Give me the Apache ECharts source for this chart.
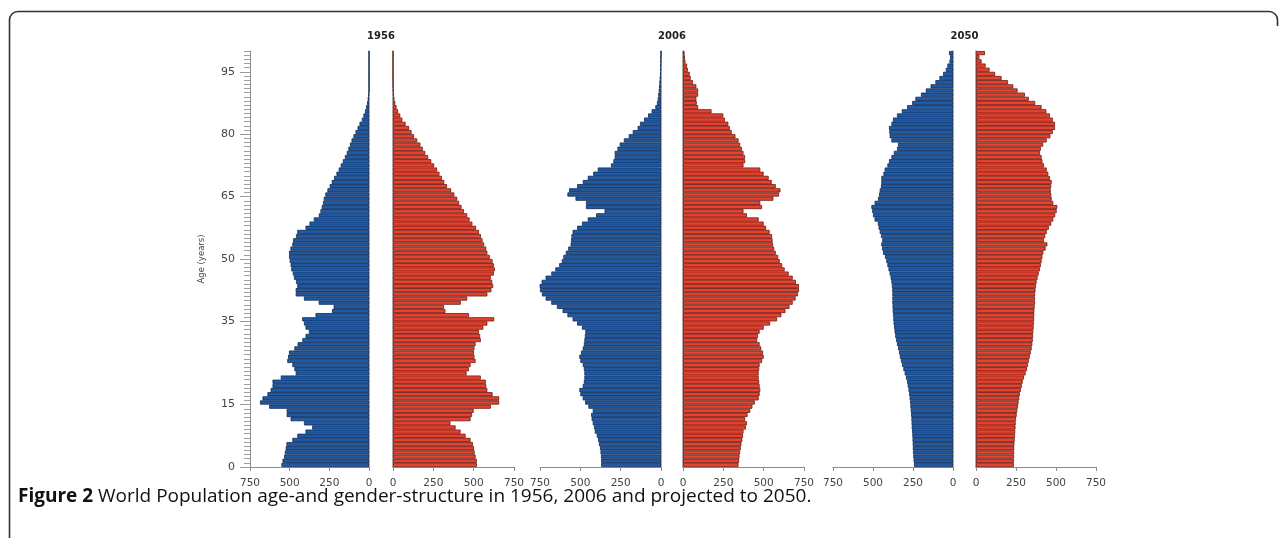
<!DOCTYPE html>
<html><head><meta charset="utf-8">
<script src="https://cdn.jsdelivr.net/npm/echarts@6/dist/echarts.min.js"></script>
<style>html,body{margin:0;padding:0;background:#fff}#c{width:1282px;height:538px}</style>
</head><body><div id="c"></div>
<script>
// ages 0..99, one bar per year
const ages = Array.from({length:100}, (_, i) => String(i));
const years = ['1956', '2006', '2050'];
const ageTickLabels = [0, 15, 35, 50, 65, 80, 95];

const male1956 = [552,545,535,530,525,520,483,452,400,358,
 410,494,519,519,629,687,671,640,620,608,
 608,556,462,470,483,515,510,504,470,450,
 420,400,379,400,410,421,337,233,223,317,
 410,462,462,452,460,473,480,490,494,500,
 504,504,495,483,478,460,452,400,375,348,
 316,306,298,290,285,275,262,248,235,220,
 205,191,178,165,152,140,130,120,110,98,
 85,72,60,45,35,25,18,12,8,4,
 0,0,0,0,0,0,0,0,0,0];
const female1956 = [520,519,512,506,502,495,481,450,419,388,
 356,481,490,500,606,658,658,617,585,578,
 575,544,456,470,481,512,505,502,505,512,
 544,540,533,560,585,627,471,325,315,420,
 460,585,610,621,615,606,625,631,625,617,
 600,585,578,565,555,545,533,515,492,475,
 460,440,425,410,398,380,360,335,318,303,
 288,273,255,237,218,200,185,170,150,130,
 115,100,78,58,45,32,22,14,9,6,
 3,2,1,0,0,0,0,0,0,0];
const male2006 = [371,371,372,375,378,385,390,398,410,415,
 423,430,433,423,450,470,485,500,506,485,
 478,475,475,478,485,500,506,496,485,478,
 475,472,469,490,520,548,580,610,645,680,
 715,738,750,756,740,715,680,655,631,615,
 605,590,575,560,558,555,548,520,490,454,
 402,350,465,465,530,580,570,520,485,454,
 420,392,310,295,287,287,270,256,230,200,
 175,145,130,105,80,58,35,25,20,17,
 14,12,10,8,6,4,3,2,1,0];
const female2006 = [344,348,350,354,358,362,368,372,375,390,
 396,385,400,417,430,445,469,475,479,475,
 472,469,469,472,475,490,500,496,485,475,
 460,465,475,500,540,583,610,635,660,680,
 698,712,719,719,700,680,655,630,615,600,
 590,575,565,558,555,552,537,515,500,469,
 396,375,490,479,560,595,604,575,550,531,
 500,479,375,385,385,375,365,354,344,325,
 302,290,281,260,250,177,94,85,83,94,
 94,83,62,48,42,30,25,15,12,10];
const male2050 = [244,246,248,250,251,252,253,254,256,258,
 259,260,262,264,266,268,271,274,278,283,
 287,294,302,310,318,325,332,337,343,350,
 356,361,365,368,371,373,375,377,378,379,
 379,379,380,382,385,390,396,403,410,417,
 425,437,443,448,442,450,458,465,470,490,
 500,505,510,490,469,462,458,450,448,448,
 435,427,410,400,385,370,350,344,385,396,
 398,400,385,375,350,320,287,255,235,200,
 170,140,110,85,62,45,35,22,18,25];
const female2050 = [237,237,238,238,239,240,242,244,245,247,
 248,250,254,258,262,266,270,274,280,286,
 292,300,310,318,325,330,336,342,348,352,
 355,357,358,360,362,363,364,365,367,369,
 369,369,372,375,379,385,392,400,405,410,
 415,421,435,446,425,433,442,455,470,483,
 495,504,508,483,473,470,467,470,473,462,
 452,442,425,415,410,400,405,420,442,465,
 480,494,494,480,462,440,410,370,330,306,
 260,233,200,160,120,85,60,35,21,56];

const maleSeries = [male1956, male2006, male2050];
const femaleSeries = [female1956, female2006, female2050];

// layout (pixels)
const panels = [
  {mL:250, mW:119, fL:393, fW:121, tx:381},
  {mL:540, mW:121, fL:683, fW:121, tx:672},
  {mL:833, mW:120, fL:976, fW:120, tx:964.5}
];
const TOP = 51, BOTTOM = 71;
const FONT = 'DejaVu Sans';
const axisGray = '#8c8c8c';

const grid = [], xAxis = [], yAxis = [], series = [], graphic = [];
panels.forEach((p, k) => {
  [['m', p.mL, p.mW], ['f', p.fL, p.fW]].forEach(([sex, left, width]) => {
    const gi = grid.length;
    const isMale = sex === 'm';
    grid.push({left: left, width: width, top: TOP, bottom: BOTTOM});
    xAxis.push({
      type: 'value', gridIndex: gi, min: 0, max: 750, interval: 250, inverse: isMale,
      axisLine: {show: true, lineStyle: {color: axisGray, width: 1}},
      axisTick: {show: true, length: 4, lineStyle: {color: axisGray}},
      axisLabel: {fontSize: 10.5, color: '#444', margin: 11, fontFamily: FONT, showMinLabel: true, showMaxLabel: true},
      splitLine: {show: false}
    });
    yAxis.push({
      type: 'category', gridIndex: gi, data: ages, position: isMale ? 'right' : 'left',
      axisLine: {show: true, onZero: false, lineStyle: {color: '#9a9a9a', width: 1.5}},
      axisTick: {show: false}, axisLabel: {show: false}, splitLine: {show: false}
    });
    series.push({
      type: 'bar', xAxisIndex: gi, yAxisIndex: gi,
      data: isMale ? maleSeries[k] : femaleSeries[k],
      barCategoryGap: '0%', silent: true,
      itemStyle: isMale
        ? {color: '#1f5aa6', borderColor: '#0c2a55', borderWidth: 0.8}
        : {color: '#e8422f', borderColor: '#6a1a10', borderWidth: 0.8}
    });
  });
  graphic.push({type: 'text', x: p.tx, y: 36, style: {text: years[k], align: 'center', verticalAlign: 'middle', font: 'bold 10px ' + FONT, fill: '#222'}});
});

// age axis on first panel
yAxis.push({
  type: 'value', gridIndex: 0, min: 0, max: 100, interval: 1, position: 'left',
  axisLine: {show: true, onZero: false, lineStyle: {color: axisGray, width: 1}},
  axisTick: {show: true, length: 6, lineStyle: {color: '#a0a0a0'}},
  axisLabel: {show: false}, splitLine: {show: false},
  name: 'Age (years)', nameLocation: 'middle', nameGap: 44, nameRotate: 90,
  nameTextStyle: {fontSize: 8.5, color: '#444', fontFamily: FONT}
});
yAxis.push({
  type: 'value', gridIndex: 0, min: 0, max: 100, position: 'left',
  axisLine: {show: false, onZero: false},
  axisTick: {show: true, length: 10, customValues: ageTickLabels, lineStyle: {color: '#999'}},
  axisLabel: {customValues: ageTickLabels, fontSize: 11, color: '#444', margin: 15, fontFamily: FONT},
  splitLine: {show: false}
});

// figure frame: left + top edges with rounded corners
const frameStyle = {fill: 'none', stroke: '#333', lineWidth: 1.6};
graphic.push({type: 'polyline', shape: {points: [[9.5, 538], [9.5, 20]]}, style: frameStyle});
graphic.push({type: 'polyline', shape: {points: [[18, 11.5], [1269, 11.5]]}, style: frameStyle});
graphic.push({type: 'arc', shape: {cx: 18, cy: 20, r: 8.5, startAngle: Math.PI, endAngle: Math.PI * 1.5}, style: frameStyle});
graphic.push({type: 'arc', shape: {cx: 1269, cy: 20, r: 8.5, startAngle: Math.PI * 1.5, endAngle: Math.PI * 2}, style: frameStyle});
graphic.push({type: 'polyline', shape: {points: [[1277.5, 20], [1277.5, 26]]}, style: frameStyle});

graphic.push({
  type: 'text', x: 18, y: 497,
  style: {
    text: '{b|Figure 2} World Population age-and gender-structure in 1956, 2006 and projected to 2050.',
    font: '19px "Open Sans"', fill: '#111', verticalAlign: 'middle',
    rich: {b: {fontWeight: 'bold', fontSize: 19, fontFamily: 'Open Sans', fill: '#111'}}
  }
});

const chart = echarts.init(document.getElementById('c'), null, {renderer: 'canvas'});
chart.setOption({animation: false, backgroundColor: '#fff', grid, xAxis, yAxis, series, graphic});
</script></body></html>
